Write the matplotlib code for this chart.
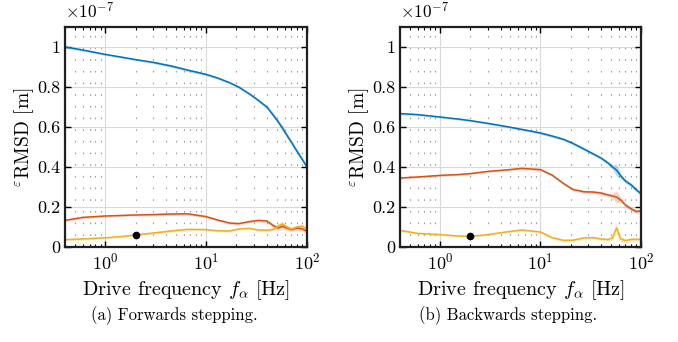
import numpy as np
import matplotlib
matplotlib.use("Agg")
import matplotlib.pyplot as plt
from matplotlib.ticker import LogLocator, FixedLocator, FuncFormatter, NullFormatter

plt.rcParams['font.family'] = 'serif'
plt.rcParams['font.serif'] = ['cmr10', 'DejaVu Serif']
plt.rcParams['mathtext.fontset'] = 'cm'
plt.rcParams['axes.formatter.use_mathtext'] = True
plt.rcParams['axes.unicode_minus'] = False

# drive frequencies [Hz] where the curves were read
freq = [0.4, 0.6, 1, 1.5, 2, 3, 4.5, 6.5, 10, 13, 17, 21, 27, 33, 40, 47, 52, 57, 63, 70, 80, 90, 100]

# forwards stepping (units of 1e-7 m)
fwd_blue = [1.0, 0.985, 0.963, 0.948, 0.937, 0.923, 0.905, 0.885, 0.863, 0.845, 0.822, 0.80,
            0.765, 0.733, 0.70, 0.655, 0.625, 0.595, 0.56, 0.524, 0.477, 0.437, 0.40]
fwd_orange = [0.133, 0.148, 0.155, 0.158, 0.160, 0.162, 0.165, 0.166, 0.152, 0.135, 0.120, 0.117,
              0.127, 0.133, 0.130, 0.105, 0.095, 0.103, 0.095, 0.087, 0.095, 0.090, 0.078]
fwd_yellow = [0.037, 0.040, 0.046, 0.053, 0.060, 0.070, 0.080, 0.088, 0.087, 0.081, 0.080, 0.090,
              0.093, 0.085, 0.084, 0.088, 0.105, 0.115, 0.100, 0.090, 0.100, 0.104, 0.087]
fwd_spread = [0.006, 0.006, 0.005, 0.005, 0.005, 0.006, 0.007, 0.007, 0.006, 0.006, 0.006, 0.006,
              0.006, 0.007, 0.008, 0.010, 0.012, 0.015, 0.012, 0.010, 0.012, 0.012, 0.010]

# backwards stepping (units of 1e-7 m)
bwd_blue = [0.667, 0.662, 0.650, 0.640, 0.632, 0.618, 0.603, 0.588, 0.570, 0.555, 0.538, 0.518,
            0.490, 0.467, 0.445, 0.420, 0.400, 0.385, 0.355, 0.330, 0.310, 0.285, 0.267]
bwd_orange = [0.345, 0.350, 0.358, 0.362, 0.367, 0.378, 0.385, 0.393, 0.387, 0.360, 0.317, 0.288,
              0.276, 0.275, 0.270, 0.260, 0.255, 0.250, 0.235, 0.210, 0.190, 0.178, 0.180]
bwd_yellow = [0.083, 0.068, 0.062, 0.055, 0.053, 0.062, 0.075, 0.085, 0.075, 0.047, 0.033, 0.034,
              0.045, 0.047, 0.040, 0.037, 0.045, 0.095, 0.040, 0.032, 0.038, 0.038, 0.038]
bwd_spread = [0.006, 0.005, 0.005, 0.005, 0.005, 0.005, 0.005, 0.006, 0.006, 0.007, 0.007, 0.007,
              0.008, 0.008, 0.008, 0.009, 0.012, 0.030, 0.012, 0.010, 0.010, 0.010, 0.010]

# operating point marker
op_freq = 2
fwd_op = 0.060
bwd_op = 0.053

colors = ['#0072BD', '#D95319', '#EDB120']
captions = ['(a) Forwards stepping.', '(b) Backwards stepping.']

fig = plt.figure(figsize=(6.78, 3.42), dpi=100)
ax_l = fig.add_axes([65/678, 1-247/342, 242/678, 220/342])
ax_r = fig.add_axes([400/678, 1-247/342, 241/678, 220/342])

panels = [
    (ax_l, [fwd_blue, fwd_orange, fwd_yellow], fwd_spread, fwd_op),
    (ax_r, [bwd_blue, bwd_orange, bwd_yellow], bwd_spread, bwd_op),
]

for i, (ax, series, spread, op) in enumerate(panels):
    f = np.array(freq)
    s = np.array(spread)
    for vals, c in zip(series, colors):
        v = np.array(vals)
        ax.fill_between(f, v - s, v + s, color=c, alpha=0.25, lw=0)
        ax.plot(f, v, color=c, lw=1.1)
    ax.plot(op_freq, op, 'o', color='black', ms=4.5, zorder=5)

    ax.set_xscale('log')
    ax.set_xlim(0.4, 100)
    ax.set_ylim(0, 1.1)
    ax.yaxis.set_major_locator(FixedLocator([0, 0.2, 0.4, 0.6, 0.8, 1.0]))
    ax.yaxis.set_major_formatter(FuncFormatter(lambda y, p: '%g' % y))
    ax.xaxis.set_major_locator(LogLocator(base=10, numticks=10))
    ax.xaxis.set_minor_locator(LogLocator(base=10, subs=np.arange(2, 10), numticks=20))
    ax.xaxis.set_minor_formatter(NullFormatter())

    ax.grid(True, which='major', color='#d9d9d9', lw=0.8, ls='-')
    ax.grid(True, which='minor', axis='x', color='#9a9a9a', lw=0.8, ls=(0, (1.4, 9.1)))
    ax.set_axisbelow(True)

    ax.tick_params(which='both', direction='in', top=True, right=True, labelsize=13)
    ax.tick_params(which='major', length=4, width=1.0)
    ax.tick_params(which='minor', length=2.5, width=0.8)
    for sp in ax.spines.values():
        sp.set_linewidth(1.6)
        sp.set_color('#202020')

    ax.set_xlabel(r'Drive frequency $f_\alpha$ [Hz]', fontsize=14.5, labelpad=4)
    ax.set_ylabel(r'$^{\varepsilon}$RMSD [m]', fontsize=14, labelpad=0.5)
    ax.text(0.0, 1.025, r'$\times10^{-7}$', transform=ax.transAxes, fontsize=12.5,
            ha='left', va='bottom')
    ax.text(0.45, -0.27, captions[i], transform=ax.transAxes, fontsize=12,
            ha='center', va='top')

fig.savefig('out.png', dpi=100)
